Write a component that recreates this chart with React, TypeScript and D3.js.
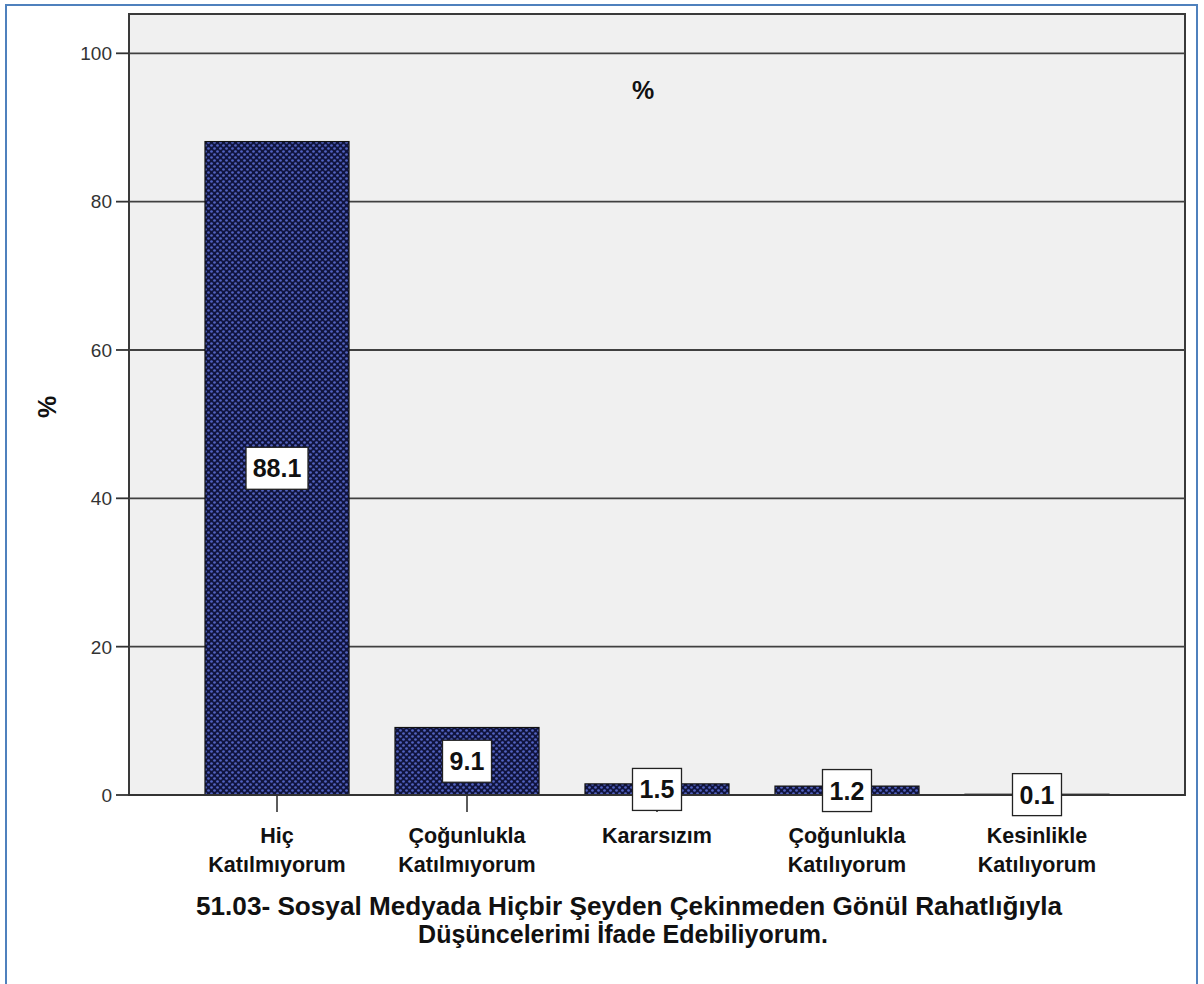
import React from "react";
import * as d3 from "d3";

const categories: string[][] = [
  ["Hiç", "Katılmıyorum"],
  ["Çoğunlukla", "Katılmıyorum"],
  ["Kararsızım"],
  ["Çoğunlukla", "Katılıyorum"],
  ["Kesinlikle", "Katılıyorum"],
];
const percents: number[] = [88.1, 9.1, 1.5, 1.2, 0.1];
const yTicks: number[] = [0, 20, 40, 60, 80, 100];
const xTitleLines: string[] = [
  "51.03- Sosyal Medyada Hiçbir Şeyden Çekinmeden Gönül Rahatlığıyla",
  "Düşüncelerimi İfade Edebiliyorum.",
];
const chartTitle = "%";
const yTitle = "%";

const W = 1204;
const H = 984;
const plot = { left: 129, right: 1185, top: 14, bottom: 795 };
const FONT = "'Liberation Sans', Arial, sans-serif";

export default function App() {
  const keys = categories.map((c) => c.join(" "));
  const x = d3
    .scaleBand<string>()
    .domain(keys)
    .range([plot.left, plot.right])
    .paddingInner(0.242)
    .paddingOuter(0.4);
  const y = d3.scaleLinear().domain([0, 105.3]).range([plot.bottom, plot.top]);
  const bw = x.bandwidth();

  const labelW = (s: string) => (s.length >= 4 ? 62 : 49);

  return (
    <svg
      width={W}
      height={H}
      style={{ position: "absolute", left: 0, top: 0, background: "#fff" }}
      fontFamily={FONT}
    >
      <defs>
        <pattern id="dots" width="6" height="6" patternUnits="userSpaceOnUse">
          <rect width="6" height="6" fill="#10143e" />
          <circle cx="1.5" cy="1.5" r="1.35" fill="#5262c0" />
          <circle cx="4.5" cy="4.5" r="1.35" fill="#5262c0" />
        </pattern>
      </defs>
      <rect x={6} y={5} width={1191} height={H + 10} fill="#fff" stroke="#4f81bd" strokeWidth={2} />

      <rect
        x={plot.left}
        y={plot.top}
        width={plot.right - plot.left}
        height={plot.bottom - plot.top}
        fill="#f0f0f0"
        stroke="#3a3a3a"
        strokeWidth={2}
      />
      {yTicks.map((t) => (
        <g key={t}>
          <line x1={plot.left} x2={plot.right} y1={y(t)} y2={y(t)} stroke="#404040" strokeWidth={1.8} />
          <line x1={116} x2={plot.left} y1={y(t)} y2={y(t)} stroke="#333" strokeWidth={1.8} />
          <text x={112} y={y(t)} dy="0.36em" textAnchor="end" fontSize={19} fill="#333">
            {t}
          </text>
        </g>
      ))}

      <text x={643} y={90} dy="0.36em" textAnchor="middle" fontSize={25} fontWeight="bold" fill="#111">
        {chartTitle}
      </text>
      <text
        transform={`translate(47,407) rotate(-90)`}
        dy="0.36em"
        textAnchor="middle"
        fontSize={25}
        fontWeight="bold"
        fill="#111"
      >
        {yTitle}
      </text>

      {percents.map((v, i) => {
        const k = keys[i];
        const x0 = x(k)!;
        return (
          <rect
            key={k}
            x={x0}
            y={y(v)}
            width={bw}
            height={plot.bottom - y(v)}
            fill="url(#dots)"
            stroke="#111"
            strokeWidth={1.2}
          />
        );
      })}

      <line x1={plot.left} x2={plot.right} y1={plot.bottom} y2={plot.bottom} stroke="#333" strokeWidth={2} />

      {keys.map((k, i) => {
        const cx = x(k)! + bw / 2;
        return (
          <g key={k}>
            <line x1={cx} x2={cx} y1={plot.bottom} y2={812} stroke="#333" strokeWidth={1.6} />
            {categories[i].map((line, j) => (
              <text
                key={j}
                x={cx}
                y={843 + j * 29}
                textAnchor="middle"
                fontSize={21.5}
                fontWeight="bold"
                fill="#111"
              >
                {line}
              </text>
            ))}
          </g>
        );
      })}

      {percents.map((v, i) => {
        const k = keys[i];
        const cx = x(k)! + bw / 2;
        const cy = y(v / 2);
        const s = v.toFixed(1);
        const w = labelW(s);
        return (
          <g key={"l" + k}>
            <rect x={cx - w / 2} y={cy - 21} width={w} height={42} fill="#fff" stroke="#222" strokeWidth={1.3} />
            <text x={cx} y={cy} dy="0.36em" textAnchor="middle" fontSize={25} fontWeight="bold" fill="#111">
              {s}
            </text>
          </g>
        );
      })}

      {xTitleLines.map((t, j) => (
        <text
          key={j}
          x={j === 0 ? 629 : 623}
          y={915 + j * 28}
          textAnchor="middle"
          fontSize={25}
          fontWeight="bold"
          fill="#111"
          textLength={j === 0 ? 866 : undefined}
          lengthAdjust="spacingAndGlyphs"
        >
          {t}
        </text>
      ))}
    </svg>
  );
}
